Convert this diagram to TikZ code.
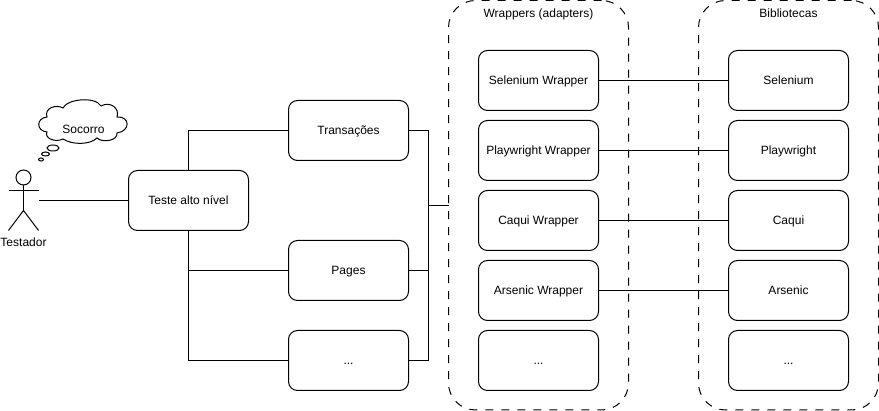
\documentclass[tikz,border=0pt]{standalone}
\usepackage{fontspec}
\setmainfont{Liberation Sans}
\usepackage{xcolor}
\usetikzlibrary{shapes.geometric, positioning}

\begin{document}
\begin{tikzpicture}[x=1pt, y=-1pt, line width=1pt, node distance=10pt and 40pt,
        box/.style={rectangle, draw=black, fill=white, rounded corners=9pt, minimum width=120pt, minimum height=60pt, inner sep=0pt, outer sep=0pt, text height=10pt, text depth=2pt, font=\fontsize{12}{14}\selectfont},
        group/.style={rectangle, draw=black, dash pattern=on 8pt off 8pt, rounded corners=27pt, minimum width=180pt, minimum height=409.5pt, inner sep=0pt, outer sep=0pt},
        label text/.style={inner sep=0pt, text height=10pt, text depth=2pt, font=\fontsize{12}{14}\selectfont},
        thought/.style={ellipse, draw=black, fill=white, inner sep=0pt, outer sep=0pt}
    ]
        \useasboundingbox (0,0) rectangle (879,411);

        % Groups
        \node [group] (wrappers) at (538.5,205.25) {};
        \node [group] (libs) at (788.5,205.25) {};
        \node [label text] (wraptitle) at (538.5,13.5) {Wrappers (adapters)};
        \node [label text] (libtitle) at (788.5,13.5) {Bibliotecas};

        % Nodes
        \node [box] (teste) at (188.5,200.5) {Teste alto nível};
        \node [box] (trans) at (348.5,130.5) {Transações};
        \node [box] (pages) at (348.5,270.5) {Pages};
        \node [box, below=30pt of pages] (dots) {...};

        \node [box] (selw) at (538.5,80.5) {Selenium Wrapper};
        \node [box, below=of selw] (playw) {Playwright Wrapper};
        \node [box, below=of playw] (caquiw) {Caqui Wrapper};
        \node [box, below=of caquiw] (arsw) {Arsenic Wrapper};
        \node [box, below=of arsw] (dotsw) {...};

        \node [box] (sel) at (788.5,80.5) {Selenium};
        \node [box, below=of sel] (play) {Playwright};
        \node [box, below=of play] (caqui) {Caqui};
        \node [box, below=of caqui] (ars) {Arsenic};
        \node [box, below=of ars] (dotsl) {...};

        % Actor
        \node [circle, draw=black, minimum size=15pt, inner sep=0pt, outer sep=0pt] (head) at (23.5,177.5) {};
        \coordinate (hip) at (23.5,210.5);
        \coordinate (hand) at (38.5,200.5);
        \draw (head.south) -- (hip);
        \draw (8.5,190.5) -- (38.5,190.5);
        \draw (8.5,230.5) -- (hip) -- (38.5,230.5);
        \node [label text] (actor) at (23.5,243) {Testador};

        % Thought
        \draw (63,108) .. controls (67,99) and (95,96) .. (101,106)
            .. controls (110,101) and (120,108) .. (117,117)
            .. controls (130,116) and (131,131) .. (117,133)
            .. controls (118,141) and (102,143) .. (97,138)
            .. controls (90,145) and (72,145) .. (63,139)
            .. controls (55,143) and (44,138) .. (47,132)
            .. controls (36,131) and (36,118) .. (47,117)
            .. controls (44,108) and (56,104) .. (63,108) -- cycle;
        \node [label text] (socorro) at (83.5,129.5) {Socorro};
        \node [thought, minimum width=12pt, minimum height=6pt] (bubA) at (53,148) {};
        \node [thought, minimum width=8pt, minimum height=4pt] (bubB) at (45.5,154) {};
        \node [thought, minimum width=5pt, minimum height=3pt] (bubC) at (41,159.5) {};

        % Connectors
        \draw (hand) -- (teste);
        \draw (teste.north) |- (trans.west);
        \draw (teste.south) |- (pages.west);
        \draw (teste.south) |- (dots.west);
        \draw (trans.east) -- ++(20,0) |- (wrappers.west);
        \draw (pages.east) -- ++(20,0) |- (wrappers.west);
        \draw (dots.east) -- ++(20,0) |- (wrappers.west);
        \draw (selw) -- (sel);
        \draw (playw) -- (play);
        \draw (caquiw) -- (caqui);
        \draw (arsw) -- (ars);
    \end{tikzpicture}
\end{document}
